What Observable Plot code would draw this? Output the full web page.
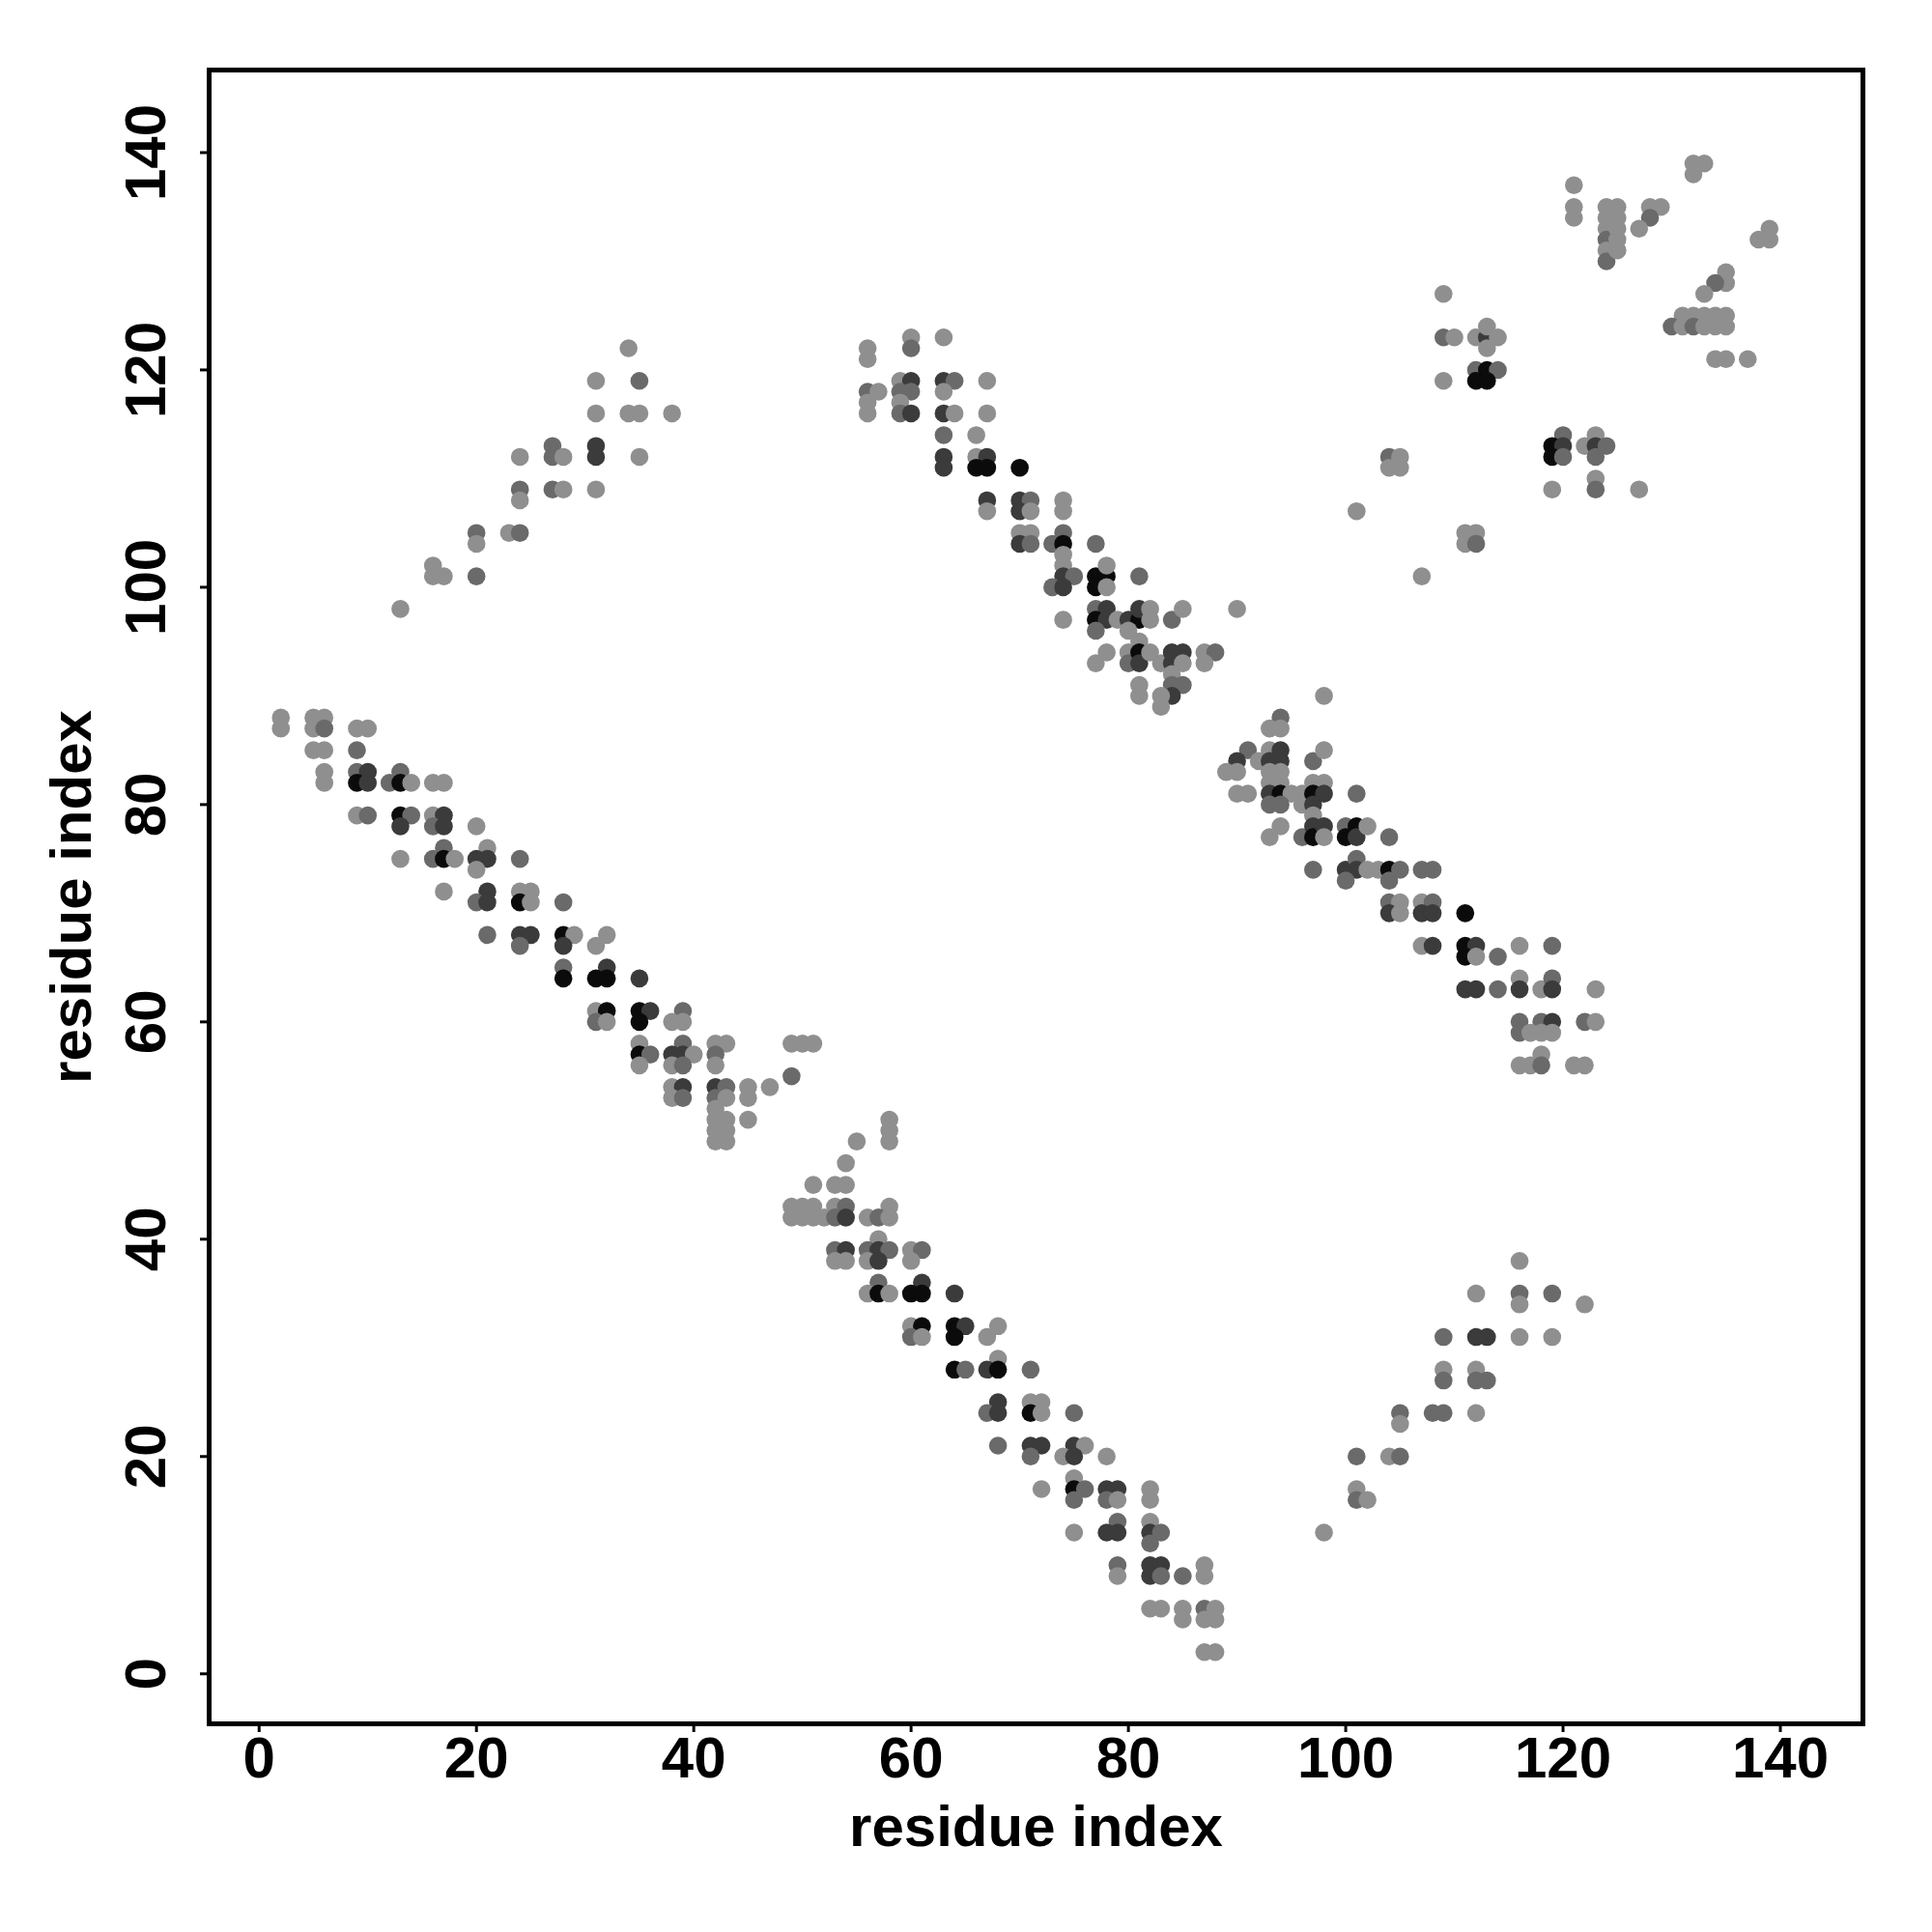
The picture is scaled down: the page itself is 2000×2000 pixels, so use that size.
<!DOCTYPE html>
<html>
<head>
<meta charset="utf-8">
<script src="https://cdn.jsdelivr.net/npm/d3@7"></script>
<script src="https://cdn.jsdelivr.net/npm/@observablehq/plot@0.6"></script>
<style>
  html, body { margin: 0; padding: 0; background: #ffffff; }
  #chart { width: 2000px; height: 2000px; }
</style>
</head>
<body>
<div id="chart"></div>
<script>
// Contact map data: [residue i, residue j, score level (1 = light .. 4 = black)]
const bandLowerLeft = [
  [2,88,1],[5,88,1],[6,88,1],
  [2,87,1],[5,87,1],[6,87,2],[9,87,1],[10,87,1],
  [5,85,1],[6,85,1],[9,85,2],
  [6,83,1],[9,83,2],[10,83,3],[13,83,2],
  [6,82,1],[9,82,4],[10,82,3],[12,82,2],[13,82,4],[14,82,1],[16,82,1],[17,82,1],
  [9,79,1],[10,79,2],[13,79,4],[14,79,2],[16,79,1],[17,79,3],
  [13,78,3],[16,78,2],[17,78,3],[20,78,1],
  [17,76,2],[21,76,1],
  [13,75,1],[16,75,2],[17,75,4],[18,75,1],[20,75,3],[21,75,3],[24,75,2],
  [20,74,1],
  [17,72,1],[21,72,3],[24,72,1],[25,72,1],
  [20,71,2],[21,71,3],[24,71,4],[25,71,1],[28,71,2],
  [21,68,2],[24,68,3],[25,68,3],[28,68,4],[29,68,1],[32,68,1],
  [24,67,2],[28,67,3],[31,67,1],
  [28,65,2],[32,65,3],
  [28,64,4],[31,64,4],[32,64,4],[35,64,3],
  [31,61,1],[32,61,4],[35,61,4],[36,61,3],[39,61,2],
  [31,60,2],[32,60,1],[35,60,4],[38,60,1],[39,60,1],
  [35,58,1],[39,58,2],[42,58,1],[43,58,1],
  [35,57,4],[36,57,2],[38,57,3],[39,57,3],[40,57,1],[42,57,2],
  [35,56,1],[38,56,1],[39,56,2],[42,56,1],
  [38,54,1],[39,54,3],[42,54,3],[43,54,2],[45,54,1],
  [38,53,1],[39,53,2],[42,53,2],[43,53,1],[45,53,1],
  [42,52,1],[42,51,1],[42,50,1],[42,49,1],[43,51,1],[43,50,1],[43,49,1],[45,51,1],
  [47,54,1],[49,55,2],[49,58,1],[50,58,1],[51,58,1]
];
const bandLowerMiddle = [
  [58,51,1],[58,50,1],[58,49,1],[55,49,1],[54,47,1],
  [51,45,1],[53,45,1],[54,45,1],
  [49,43,1],[50,43,1],[51,43,1],[53,43,1],[54,43,2],[58,43,1],
  [49,42,1],[50,42,1],[51,42,1],[52,42,1],[53,42,2],[54,42,3],[56,42,1],[57,42,2],[58,42,1],
  [57,40,1],
  [53,39,2],[54,39,3],[56,39,2],[57,39,3],[58,39,2],[60,39,1],[61,39,2],
  [53,38,1],[54,38,1],[56,38,1],[57,38,3],[60,38,1],
  [57,36,2],[61,36,3],
  [56,35,1],[57,35,4],[58,35,1],[60,35,4],[61,35,4],[64,35,3],
  [60,32,1],[61,32,4],[64,32,4],[65,32,3],[68,32,1],
  [60,31,2],[61,31,1],[64,31,4],[67,31,1],
  [68,29,1],
  [64,28,4],[65,28,2],[67,28,3],[68,28,4],[71,28,2],
  [68,25,3],[71,25,1],[72,25,1],
  [67,24,2],[68,24,3],[71,24,4],[72,24,1],[75,24,2],
  [68,21,2],[71,21,3],[72,21,3],[75,21,3],[76,21,1],
  [71,20,2],[74,20,1],[75,20,3],[78,20,1],
  [75,18,1],
  [72,17,1],[75,17,4],[76,17,2],[78,17,3],[79,17,3],[82,17,1],
  [75,16,2],[78,16,2],[79,16,1],[82,16,1],
  [79,14,2],[82,14,1],
  [75,13,1],[78,13,3],[79,13,3],[82,13,3],[83,13,2],
  [82,12,2],
  [79,10,2],[82,10,3],[83,10,3],[87,10,1],
  [79,9,1],[82,9,3],[83,9,2],[85,9,2],[87,9,1],
  [82,6,1],[83,6,1],[85,6,1],[87,6,2],[88,6,1],
  [85,5,1],[87,5,1],[88,5,1],
  [87,2,1],[88,2,1]
];
const armUpperLeft = [
  [34,122,1],[31,119,1],[35,119,2],[31,116,1],[34,116,1],[35,116,1],[38,116,1],
  [27,113,2],[31,113,3],[24,112,1],[27,112,2],[28,112,1],[31,112,3],[35,112,1],
  [24,109,2],[24,108,1],[27,109,2],[28,109,1],[31,109,1],
  [20,105,2],[20,104,1],[23,105,1],[24,105,2],
  [16,102,1],[16,101,1],[17,101,1],[20,101,2],[13,98,1]
];
const bandUpperMiddle = [
  [56,122,1],[56,121,1],[60,123,1],[60,122,2],[63,123,1],
  [56,118,2],[57,118,1],[56,117,1],[56,116,1],
  [59,119,1],[60,119,3],[59,118,2],[60,118,2],[59,117,1],[59,116,2],[60,116,3],
  [63,119,3],[64,119,2],[63,118,1],[67,119,1],
  [63,116,3],[64,116,1],[67,116,1],
  [63,114,2],[66,114,1],
  [63,112,3],[63,111,3],[66,112,1],[67,112,3],[66,111,4],[67,111,4],[70,111,4],
  [67,108,3],[67,107,1],
  [70,108,3],[71,108,2],[70,107,3],[71,107,1],[74,108,1],[74,107,1],
  [70,105,1],[71,105,1],[70,104,3],[71,104,2],[73,104,2],[74,105,2],[74,104,4],[77,104,2],
  [74,103,1],[74,102,1],
  [74,101,3],[75,101,2],[73,100,2],[74,100,3],
  [77,101,4],[78,101,4],[77,100,4],[78,100,1],[78,102,1],[81,101,2],
  [74,97,1],
  [77,98,2],[78,98,3],[77,97,4],[78,97,3],[77,96,2],[79,97,1],[80,97,3],[81,97,4],[81,98,3],
  [82,98,1],[82,97,1],[80,96,1],[81,95,1],[84,97,2],[85,98,1],[90,98,1],
  [78,94,1],[77,93,1],
  [80,94,1],[80,93,2],[81,94,4],[81,93,3],[82,94,1],[83,93,1],[84,94,3],[85,94,3],[84,93,3],
  [85,93,1],[87,94,1],[88,94,2],[87,93,1],
  [84,92,1],
  [81,91,1],[81,90,1],[84,91,2],[85,91,2],[84,90,3],[83,90,1],[83,89,1]
];
const bandRightMiddle = [
  [98,90,1],
  [94,88,2],[93,87,1],[94,87,1],
  [91,85,2],[93,85,1],[94,85,3],
  [90,84,3],[92,84,1],[93,84,3],[94,84,3],
  [89,83,1],[90,83,1],[93,83,1],[94,83,1],
  [97,84,2],[98,85,1],
  [90,81,1],[91,81,1],
  [93,82,1],[94,82,1],
  [93,81,3],[94,81,4],[95,81,1],[96,81,1],
  [93,80,2],[94,80,2],[96,80,1],
  [97,82,1],[98,82,1],[97,81,4],[98,81,3],[97,80,3],[97,79,1],
  [101,81,2],
  [93,77,1],[94,78,1],
  [96,77,2],[97,78,3],[97,77,4],[98,78,3],[98,77,1],
  [100,78,2],[100,77,4],[101,78,4],[101,77,3],[102,78,1],[104,77,2],
  [97,74,2],
  [100,74,3],[101,75,2],[101,74,3],[100,73,2],[102,74,1],[103,74,1],[104,74,4],[105,74,2],
  [104,73,2],[107,74,2],[108,74,2],
  [104,71,2],[105,71,1],[104,70,3],[105,70,1],[107,71,1],[108,71,2],[107,70,3],[108,70,3],[111,70,4],
  [107,67,1],[108,67,3],[111,67,4],[112,67,3],[111,66,4],[112,66,1],[114,66,2],[116,67,1],[119,67,2],
  [111,63,3],[112,63,3],[114,63,2],[116,64,1],[116,63,3],[118,63,1],[119,64,2],[119,63,3],[123,63,1],
  [116,60,2],[116,59,2],[118,60,2],[119,60,3],[117,59,1],[118,59,1],[119,59,1],[122,60,2],[123,60,1],
  [116,56,1],[117,56,1],[118,57,1],[118,56,2],[121,56,1],[122,56,1]
];
const armLowerRight = [
  [116,38,1],[112,35,1],[116,35,2],[116,34,1],[119,35,2],[122,34,1],
  [109,31,2],[112,31,3],[113,31,3],[116,31,1],[119,31,1],
  [109,28,1],[109,27,2],[112,28,1],[112,27,2],[113,27,2],
  [105,24,2],[105,23,1],[108,24,2],[109,24,2],[112,24,1],
  [101,20,2],[104,20,1],[105,20,2],
  [101,17,1],[101,16,2],[102,16,1],
  [98,13,1]
];
const clusterUpperRight = [
  [132,139,1],[133,139,1],[132,138,1],
  [121,137,1],[121,135,1],[121,134,1],
  [124,135,1],[124,134,1],[124,133,1],[124,132,2],[124,131,1],[124,130,2],
  [125,135,1],[125,134,1],[125,133,1],[125,132,1],[125,131,1],
  [128,135,1],[129,135,1],[128,134,2],[127,133,1],
  [139,133,1],[139,132,1],[138,132,1],
  [135,129,1],[135,128,1],[134,128,2],[133,127,1],
  [131,125,1],[132,125,1],[133,125,1],[134,125,1],[135,125,1],
  [130,124,2],[131,124,1],[132,124,2],[133,124,1],[134,124,1],[135,124,1],
  [134,121,1],[135,121,1],[137,121,1],
  [109,127,1],
  [109,123,2],[110,123,1],[112,123,1],[113,123,3],[114,123,1],[113,124,1],[113,122,1],
  [112,120,2],[113,120,4],[114,120,2],[112,119,4],[113,119,4],[109,119,1],
  [120,114,2],[123,114,1],
  [119,113,4],[120,113,3],[122,113,1],[123,113,3],[124,113,2],
  [119,112,4],[120,112,2],[123,112,2],
  [123,110,1],[123,109,2],[119,109,1],[127,109,1],
  [104,112,2],[105,112,1],[104,111,1],[105,111,1],
  [101,107,1],
  [111,105,1],[112,105,1],[111,104,1],[112,104,2],
  [107,101,1]
];

const tickValues = [0, 20, 40, 60, 80, 100, 120, 140];
const levelDomain = [1, 2, 3, 4];
const levelGrays = ["#8f8f8f", "#6a6a6a", "#3b3b3b", "#0b0b0b"];
const xLabel = "residue index";
const yLabel = "residue index";

const contacts = [
  ...bandLowerLeft, ...bandLowerMiddle, ...armUpperLeft, ...bandUpperMiddle,
  ...bandRightMiddle, ...armLowerRight, ...clusterUpperRight
].map(([i, j, level]) => ({i, j, level}));

const font = "'Liberation Sans', Arial, Helvetica, sans-serif";

const chart = Plot.plot({
  width: 2000,
  height: 2000,
  marginLeft: 216,
  marginRight: 72,
  marginTop: 72,
  marginBottom: 216,
  style: {background: "#ffffff", fontFamily: font, fontWeight: "bold", color: "#000"},
  x: {domain: [-4.6, 147.6], ticks: tickValues},
  y: {domain: [-4.6, 147.6], ticks: tickValues},
  color: {type: "ordinal", domain: levelDomain, range: levelGrays},
  marks: [
    Plot.dot(contacts, {x: "i", y: "j", r: 9.3, fill: "level", stroke: null}),
    Plot.frame({stroke: "#000", strokeWidth: 5}),
    Plot.axisX({ticks: tickValues, tickSize: 9, tickPadding: 4, fontSize: 60, fontWeight: "bold", strokeWidth: 3, label: null}),
    Plot.axisY({ticks: tickValues, tickSize: 9, tickPadding: 37, tickRotate: -90, fontSize: 60, fontWeight: "bold", strokeWidth: 3, label: null}),
    Plot.text([xLabel], {text: d => d, frameAnchor: "bottom", dy: 126, fontSize: 60, fontWeight: "bold"}),
    Plot.text([yLabel], {text: d => d, frameAnchor: "left", textAnchor: "middle", dx: -142, rotate: -90, fontSize: 60, fontWeight: "bold"})
  ]
});
document.getElementById("chart").appendChild(chart);
</script>
</body>
</html>
